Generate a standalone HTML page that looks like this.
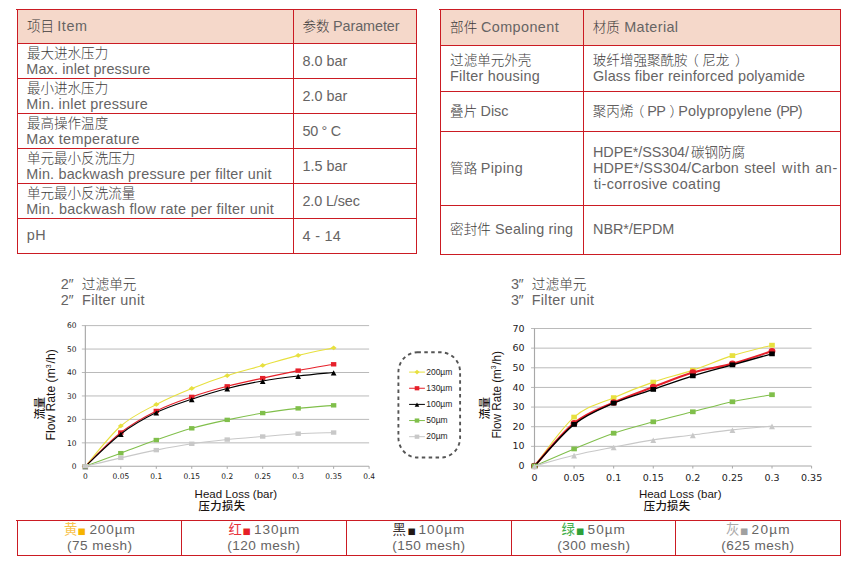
<!DOCTYPE html>
<html lang="zh">
<head>
<meta charset="utf-8">
<title>Filter unit specifications</title>
<style>
html,body{margin:0;padding:0;background:#fff;}
body{width:849px;height:563px;overflow:hidden;position:relative;}
svg{position:absolute;left:0;top:0;display:block;}
text{font-family:"Liberation Sans","Noto Sans CJK SC",sans-serif;white-space:pre;}
</style>
</head>
<body>
<svg width="849" height="563" viewBox="0 0 849 563">
<rect x="17" y="9" width="400" height="34" fill="#f5d8ca"/>
<path d="M16,9h401v1h-401zM17,43h400v1h-400zM17,78h400v1h-400zM17,113h400v1h-400zM17,148h400v1h-400zM17,183h400v1h-400zM17,218h400v1h-400zM17,253h400v1h-400zM17,9h1v245h-1zM293,9h1v245h-1zM416,9h1v245h-1z" fill="#cb1b23" shape-rendering="crispEdges"/>
<text y="31.4" fill="#666464"><tspan x="26.90" font-size="13.55" font-weight="300" letter-spacing="0" fill="#3e3c3c">项目</tspan><tspan> </tspan><tspan x="57.30" font-size="14.4" letter-spacing="0.575">Item</tspan></text>
<text y="31.4" fill="#666464"><tspan x="302.50" font-size="13.55" font-weight="300" letter-spacing="0" fill="#3e3c3c">参数</tspan><tspan> </tspan><tspan x="333.05" font-size="14.4" letter-spacing="-0.085">Parameter</tspan></text>
<text y="57.9" fill="#666464"><tspan x="26.90" font-size="13.55" font-weight="300" letter-spacing="0" fill="#3e3c3c">最大进水压力</tspan></text>
<text y="73.6" fill="#666464"><tspan x="26.35" font-size="14.4" letter-spacing="0.134">Max. inlet pressure</tspan></text>
<text y="66.2" fill="#666464"><tspan x="302.52" font-size="14.4" letter-spacing="-0.011">8.0 bar</tspan></text>
<text y="92.9" fill="#666464"><tspan x="26.90" font-size="13.55" font-weight="300" letter-spacing="0" fill="#3e3c3c">最小进水压力</tspan></text>
<text y="108.6" fill="#666464"><tspan x="26.35" font-size="14.4" letter-spacing="0.216">Min. inlet pressure</tspan></text>
<text y="101.2" fill="#666464"><tspan x="302.38" font-size="14.4" letter-spacing="0.013">2.0 bar</tspan></text>
<text y="127.9" fill="#666464"><tspan x="26.90" font-size="13.55" font-weight="300" letter-spacing="0" fill="#3e3c3c">最高操作温度</tspan></text>
<text y="143.6" fill="#666464"><tspan x="26.35" font-size="14.4" letter-spacing="0.319">Max temperature</tspan></text>
<text y="136.2" fill="#666464"><tspan x="302.52" font-size="14.4" letter-spacing="-0.319">50 ° C</tspan></text>
<text y="162.9" fill="#666464"><tspan x="26.90" font-size="13.55" font-weight="300" letter-spacing="0" fill="#3e3c3c">单元最小反洗压力</tspan></text>
<text y="178.6" fill="#666464"><tspan x="26.35" font-size="14.4" letter-spacing="0.183">Min. backwash pressure per filter unit</tspan></text>
<text y="171.2" fill="#666464"><tspan x="302.52" font-size="14.4" letter-spacing="-0.010">1.5 bar</tspan></text>
<text y="197.9" fill="#666464"><tspan x="26.90" font-size="13.55" font-weight="300" letter-spacing="0" fill="#3e3c3c">单元最小反洗流量</tspan></text>
<text y="213.6" fill="#666464"><tspan x="26.35" font-size="14.4" letter-spacing="0.281">Min. backwash flow rate per filter unit</tspan></text>
<text y="206.2" fill="#666464"><tspan x="302.38" font-size="14.4" letter-spacing="-0.111">2.0 L/sec</tspan></text>
<text y="240.2" fill="#666464"><tspan x="26.64" font-size="14.4" letter-spacing="0.684">pH</tspan></text>
<text y="241.1" fill="#666464"><tspan x="302.61" font-size="14.4" letter-spacing="0.271">4 - 14</tspan></text>
<rect x="440" y="9" width="401" height="36" fill="#f5d8ca"/>
<path d="M439,9h402v1h-402zM440,45h401v1h-401zM440,91h401v1h-401zM440,131h401v1h-401zM440,205h401v1h-401zM440,254h401v1h-401zM440,9h1v246h-1zM583,9h1v246h-1zM840,9h1v246h-1z" fill="#cb1b23" shape-rendering="crispEdges"/>
<text y="32.0" fill="#666464"><tspan x="450.10" font-size="13.55" font-weight="300" letter-spacing="0" fill="#3e3c3c">部件</tspan><tspan> </tspan><tspan x="480.98" font-size="14.4" letter-spacing="0.418">Component</tspan></text>
<text y="32.0" fill="#666464"><tspan x="592.80" font-size="13.55" font-weight="300" letter-spacing="0" fill="#3e3c3c">材质</tspan><tspan> </tspan><tspan x="624.25" font-size="14.4" letter-spacing="0.375">Material</tspan></text>
<text y="64.9" fill="#666464"><tspan x="450.10" font-size="13.55" font-weight="300" letter-spacing="0" fill="#3e3c3c">过滤单元外壳</tspan></text>
<text y="80.7" fill="#666464"><tspan x="449.95" font-size="14.4" letter-spacing="0.270">Filter housing</tspan></text>
<text y="64.9" fill="#666464"><tspan x="592.80" font-size="13.55" font-weight="300" letter-spacing="0" fill="#3e3c3c">玻纤增强聚酰胺</tspan><tspan x="685.20" font-size="13.55" font-weight="300" letter-spacing="0" fill="#3e3c3c">（</tspan><tspan x="702.30" font-size="13.55" font-weight="300" letter-spacing="0" fill="#3e3c3c">尼龙</tspan><tspan x="734.90" font-size="13.55" font-weight="300" letter-spacing="0" fill="#3e3c3c">）</tspan></text>
<text y="80.9" fill="#666464"><tspan x="592.88" font-size="14.4" letter-spacing="0.187">Glass fiber reinforced polyamide</tspan></text>
<text y="115.6" fill="#666464"><tspan x="450.10" font-size="13.55" font-weight="300" letter-spacing="0" fill="#3e3c3c">叠片</tspan><tspan> </tspan><tspan x="480.55" font-size="14.4" letter-spacing="-0.032">Disc</tspan></text>
<text y="115.8" fill="#666464"><tspan x="592.80" font-size="13.55" font-weight="300" letter-spacing="0" fill="#3e3c3c">聚丙烯</tspan><tspan x="630.70" font-size="13.55" font-weight="300" letter-spacing="0" fill="#3e3c3c">（</tspan><tspan x="647.25" font-size="14.4" letter-spacing="-0.480">PP</tspan><tspan x="669.60" font-size="13.55" font-weight="300" letter-spacing="0" fill="#3e3c3c">）</tspan><tspan x="678.15" font-size="14.4" letter-spacing="0.200">Polypropylene</tspan><tspan> </tspan><tspan x="776.14" font-size="14.4" letter-spacing="-0.757">(PP)</tspan></text>
<text y="173.2" fill="#666464"><tspan x="450.10" font-size="13.55" font-weight="300" letter-spacing="0" fill="#3e3c3c">管路</tspan><tspan> </tspan><tspan x="480.75" font-size="14.4" letter-spacing="0.397">Piping</tspan></text>
<text y="157.0" fill="#666464"><tspan x="593.05" font-size="14.4" letter-spacing="-0.078">HDPE*/SS304/</tspan><tspan x="691.00" font-size="13.55" font-weight="300" letter-spacing="0" fill="#3e3c3c">碳钢防腐</tspan></text>
<text y="172.9" fill="#666464"><tspan x="593.05" font-size="14.4" letter-spacing="0.108">HDPE*/SS304/Carbon</tspan><tspan> </tspan><tspan x="744.34" font-size="14.4" letter-spacing="0.185">steel</tspan><tspan> </tspan><tspan x="782.07" font-size="14.4" letter-spacing="0.677">with</tspan><tspan> </tspan><tspan x="815.22" font-size="14.4" letter-spacing="0.608">an-</tspan></text>
<text y="189.1" fill="#666464"><tspan x="593.68" font-size="14.4" letter-spacing="0.324">ti-corrosive coating</tspan></text>
<text y="234.3" fill="#666464"><tspan x="450.10" font-size="13.55" font-weight="300" letter-spacing="0" fill="#3e3c3c">密封件</tspan><tspan> </tspan><tspan x="495.05" font-size="14.4" letter-spacing="0.189">Sealing ring</tspan></text>
<text y="234.2" fill="#666464"><tspan x="593.05" font-size="14.4" letter-spacing="-0.043">NBR*/EPDM</tspan></text>
<text y="288.8" fill="#666464"><tspan x="60.68" font-size="14.4" letter-spacing="-0.068">2″</tspan><tspan x="81.80" font-size="13.7" font-weight="300" letter-spacing="0" fill="#3e3c3c">过滤单元</tspan></text>
<text y="305.0" fill="#666464"><tspan x="60.68" font-size="14.4" letter-spacing="-0.068">2″</tspan><tspan>  </tspan><tspan x="82.05" font-size="14.4" letter-spacing="0.317">Filter unit</tspan></text>
<text y="288.8" fill="#666464"><tspan x="510.90" font-size="14.4" letter-spacing="-0.284">3″</tspan><tspan x="531.80" font-size="13.7" font-weight="300" letter-spacing="0" fill="#3e3c3c">过滤单元</tspan></text>
<text y="305.0" fill="#666464"><tspan x="510.90" font-size="14.4" letter-spacing="-0.284">3″</tspan><tspan>  </tspan><tspan x="531.75" font-size="14.4" letter-spacing="0.317">Filter unit</tspan></text>
<line x1="81.85" y1="466.3" x2="369.1" y2="466.3" stroke="#a8a8a8" stroke-width="1.1"/>
<text transform="translate(76.4,469.15) scale(0.96,1)" font-size="7.8" fill="#222222" text-anchor="end" style="font-family:'DejaVu Sans',sans-serif">0</text>
<line x1="81.85" y1="442.85" x2="369.1" y2="442.85" stroke="#b2b2b2" stroke-width="0.9"/>
<text transform="translate(76.4,445.7) scale(0.96,1)" font-size="7.8" fill="#222222" text-anchor="end" style="font-family:'DejaVu Sans',sans-serif">10</text>
<line x1="81.85" y1="419.4" x2="369.1" y2="419.4" stroke="#b2b2b2" stroke-width="0.9"/>
<text transform="translate(76.4,422.25) scale(0.96,1)" font-size="7.8" fill="#222222" text-anchor="end" style="font-family:'DejaVu Sans',sans-serif">20</text>
<line x1="81.85" y1="395.95" x2="369.1" y2="395.95" stroke="#b2b2b2" stroke-width="0.9"/>
<text transform="translate(76.4,398.8) scale(0.96,1)" font-size="7.8" fill="#222222" text-anchor="end" style="font-family:'DejaVu Sans',sans-serif">30</text>
<line x1="81.85" y1="372.5" x2="369.1" y2="372.5" stroke="#b2b2b2" stroke-width="0.9"/>
<text transform="translate(76.4,375.35) scale(0.96,1)" font-size="7.8" fill="#222222" text-anchor="end" style="font-family:'DejaVu Sans',sans-serif">40</text>
<line x1="81.85" y1="349.05" x2="369.1" y2="349.05" stroke="#b2b2b2" stroke-width="0.9"/>
<text transform="translate(76.4,351.9) scale(0.96,1)" font-size="7.8" fill="#222222" text-anchor="end" style="font-family:'DejaVu Sans',sans-serif">50</text>
<line x1="81.85" y1="325.6" x2="369.1" y2="325.6" stroke="#b2b2b2" stroke-width="0.9"/>
<text transform="translate(76.4,328.45) scale(0.96,1)" font-size="7.8" fill="#222222" text-anchor="end" style="font-family:'DejaVu Sans',sans-serif">60</text>
<line x1="85.35" y1="325.6" x2="85.35" y2="468.8" stroke="#a8a8a8" stroke-width="1.15"/>
<line x1="85.35" y1="466.3" x2="85.35" y2="468.8" stroke="#a8a8a8" stroke-width="1.0"/>
<text transform="translate(85.35,478.8) scale(0.96,1)" font-size="7.8" fill="#222222" text-anchor="middle" style="font-family:'DejaVu Sans',sans-serif">0</text>
<line x1="120.82" y1="466.3" x2="120.82" y2="468.8" stroke="#a8a8a8" stroke-width="1.0"/>
<text transform="translate(120.82,478.8) scale(0.96,1)" font-size="7.8" fill="#222222" text-anchor="middle" style="font-family:'DejaVu Sans',sans-serif">0.05</text>
<line x1="156.29" y1="466.3" x2="156.29" y2="468.8" stroke="#a8a8a8" stroke-width="1.0"/>
<text transform="translate(156.29,478.8) scale(0.96,1)" font-size="7.8" fill="#222222" text-anchor="middle" style="font-family:'DejaVu Sans',sans-serif">0.1</text>
<line x1="191.76" y1="466.3" x2="191.76" y2="468.8" stroke="#a8a8a8" stroke-width="1.0"/>
<text transform="translate(191.76,478.8) scale(0.96,1)" font-size="7.8" fill="#222222" text-anchor="middle" style="font-family:'DejaVu Sans',sans-serif">0.15</text>
<line x1="227.22" y1="466.3" x2="227.22" y2="468.8" stroke="#a8a8a8" stroke-width="1.0"/>
<text transform="translate(227.22,478.8) scale(0.96,1)" font-size="7.8" fill="#222222" text-anchor="middle" style="font-family:'DejaVu Sans',sans-serif">0.2</text>
<line x1="262.69" y1="466.3" x2="262.69" y2="468.8" stroke="#a8a8a8" stroke-width="1.0"/>
<text transform="translate(262.69,478.8) scale(0.96,1)" font-size="7.8" fill="#222222" text-anchor="middle" style="font-family:'DejaVu Sans',sans-serif">0.25</text>
<line x1="298.16" y1="466.3" x2="298.16" y2="468.8" stroke="#a8a8a8" stroke-width="1.0"/>
<text transform="translate(298.16,478.8) scale(0.96,1)" font-size="7.8" fill="#222222" text-anchor="middle" style="font-family:'DejaVu Sans',sans-serif">0.3</text>
<line x1="333.63" y1="466.3" x2="333.63" y2="468.8" stroke="#a8a8a8" stroke-width="1.0"/>
<text transform="translate(333.63,478.8) scale(0.96,1)" font-size="7.8" fill="#222222" text-anchor="middle" style="font-family:'DejaVu Sans',sans-serif">0.35</text>
<line x1="369.1" y1="466.3" x2="369.1" y2="468.8" stroke="#a8a8a8" stroke-width="1.0"/>
<text transform="translate(369.1,478.8) scale(0.96,1)" font-size="7.8" fill="#222222" text-anchor="middle" style="font-family:'DejaVu Sans',sans-serif">0.4</text>
<path d="M85.35,466.30 C91.26,459.58 109.00,436.28 120.82,425.97 C132.64,415.65 144.46,410.65 156.29,404.39 C168.11,398.14 179.93,393.25 191.76,388.45 C203.58,383.64 215.40,379.38 227.22,375.55 C239.05,371.72 250.87,368.83 262.69,365.47 C274.52,362.10 286.34,358.31 298.16,355.38 C309.99,352.45 327.72,349.13 333.63,347.88" fill="none" stroke="#e7e03f" stroke-width="1.1"/>
<path d="M85.35,463.90 L88.35,466.30 L85.35,468.70 L82.35,466.30Z" fill="#e7e03f"/>
<path d="M120.82,423.57 L123.82,425.97 L120.82,428.37 L117.82,425.97Z" fill="#e7e03f"/>
<path d="M156.29,401.99 L159.29,404.39 L156.29,406.79 L153.29,404.39Z" fill="#e7e03f"/>
<path d="M191.76,386.05 L194.76,388.45 L191.76,390.85 L188.76,388.45Z" fill="#e7e03f"/>
<path d="M227.22,373.15 L230.22,375.55 L227.22,377.95 L224.22,375.55Z" fill="#e7e03f"/>
<path d="M262.69,363.07 L265.69,365.47 L262.69,367.87 L259.69,365.47Z" fill="#e7e03f"/>
<path d="M298.16,352.98 L301.16,355.38 L298.16,357.78 L295.16,355.38Z" fill="#e7e03f"/>
<path d="M333.63,345.48 L336.63,347.88 L333.63,350.28 L330.63,347.88Z" fill="#e7e03f"/>
<path d="M85.35,466.30 C91.26,460.67 109.00,441.76 120.82,432.53 C132.64,423.31 144.46,416.90 156.29,410.96 C168.11,405.02 179.93,400.99 191.76,396.89 C203.58,392.78 215.40,389.46 227.22,386.34 C239.05,383.21 250.87,380.75 262.69,378.13 C274.52,375.51 286.34,372.93 298.16,370.62 C309.99,368.32 327.72,365.35 333.63,364.29" fill="none" stroke="#e6202a" stroke-width="1.1"/>
<rect x="82.65" y="464.10" width="5.40" height="4.40" fill="#e6202a"/>
<rect x="118.12" y="430.33" width="5.40" height="4.40" fill="#e6202a"/>
<rect x="153.59" y="408.76" width="5.40" height="4.40" fill="#e6202a"/>
<rect x="189.06" y="394.69" width="5.40" height="4.40" fill="#e6202a"/>
<rect x="224.53" y="384.14" width="5.40" height="4.40" fill="#e6202a"/>
<rect x="259.99" y="375.93" width="5.40" height="4.40" fill="#e6202a"/>
<rect x="295.46" y="368.42" width="5.40" height="4.40" fill="#e6202a"/>
<rect x="330.93" y="362.09" width="5.40" height="4.40" fill="#e6202a"/>
<path d="M85.35,466.30 C91.26,460.91 109.00,442.89 120.82,433.94 C132.64,424.99 144.46,418.38 156.29,412.60 C168.11,406.82 179.93,403.26 191.76,399.23 C203.58,395.21 215.40,391.49 227.22,388.45 C239.05,385.40 250.87,383.01 262.69,380.94 C274.52,378.87 286.34,377.42 298.16,376.02 C309.99,374.61 327.72,373.09 333.63,372.50" fill="none" stroke="#000000" stroke-width="1.1"/>
<path d="M85.35,464.10 L88.20,469.30 L82.50,469.30Z" fill="#000000"/>
<path d="M120.82,431.74 L123.67,436.94 L117.97,436.94Z" fill="#000000"/>
<path d="M156.29,410.40 L159.14,415.60 L153.44,415.60Z" fill="#000000"/>
<path d="M191.76,397.03 L194.61,402.23 L188.91,402.23Z" fill="#000000"/>
<path d="M227.22,386.25 L230.07,391.45 L224.38,391.45Z" fill="#000000"/>
<path d="M262.69,378.74 L265.54,383.94 L259.84,383.94Z" fill="#000000"/>
<path d="M298.16,373.82 L301.01,379.02 L295.31,379.02Z" fill="#000000"/>
<path d="M333.63,370.30 L336.48,375.50 L330.78,375.50Z" fill="#000000"/>
<path d="M85.35,466.30 C91.26,464.11 109.00,457.55 120.82,453.17 C132.64,448.79 144.46,444.18 156.29,440.04 C168.11,435.89 179.93,431.67 191.76,428.31 C203.58,424.95 215.40,422.41 227.22,419.87 C239.05,417.33 250.87,414.98 262.69,413.07 C274.52,411.15 286.34,409.67 298.16,408.38 C309.99,407.09 327.72,405.84 333.63,405.33" fill="none" stroke="#80bf4b" stroke-width="1.1"/>
<rect x="82.65" y="464.10" width="5.40" height="4.40" fill="#80bf4b"/>
<rect x="118.12" y="450.97" width="5.40" height="4.40" fill="#80bf4b"/>
<rect x="153.59" y="437.84" width="5.40" height="4.40" fill="#80bf4b"/>
<rect x="189.06" y="426.11" width="5.40" height="4.40" fill="#80bf4b"/>
<rect x="224.53" y="417.67" width="5.40" height="4.40" fill="#80bf4b"/>
<rect x="259.99" y="410.87" width="5.40" height="4.40" fill="#80bf4b"/>
<rect x="295.46" y="406.18" width="5.40" height="4.40" fill="#80bf4b"/>
<rect x="330.93" y="403.13" width="5.40" height="4.40" fill="#80bf4b"/>
<path d="M85.35,466.30 C91.26,464.89 109.00,460.55 120.82,457.86 C132.64,455.16 144.46,452.46 156.29,450.12 C168.11,447.77 179.93,445.55 191.76,443.79 C203.58,442.03 215.40,440.78 227.22,439.57 C239.05,438.36 250.87,437.50 262.69,436.52 C274.52,435.54 286.34,434.37 298.16,433.70 C309.99,433.04 327.72,432.73 333.63,432.53" fill="none" stroke="#c8c8c8" stroke-width="1.1"/>
<rect x="82.65" y="464.10" width="5.40" height="4.40" fill="#c8c8c8"/>
<rect x="118.12" y="455.66" width="5.40" height="4.40" fill="#c8c8c8"/>
<rect x="153.59" y="447.92" width="5.40" height="4.40" fill="#c8c8c8"/>
<rect x="189.06" y="441.59" width="5.40" height="4.40" fill="#c8c8c8"/>
<rect x="224.53" y="437.37" width="5.40" height="4.40" fill="#c8c8c8"/>
<rect x="259.99" y="434.32" width="5.40" height="4.40" fill="#c8c8c8"/>
<rect x="295.46" y="431.50" width="5.40" height="4.40" fill="#c8c8c8"/>
<rect x="330.93" y="430.33" width="5.40" height="4.40" fill="#c8c8c8"/>
<line x1="531.0" y1="466.0" x2="811.6" y2="466.0" stroke="#a8a8a8" stroke-width="1.1"/>
<text transform="translate(524.5,469.1) scale(1.12,1)" font-size="8.5" fill="#222222" text-anchor="end" style="font-family:'DejaVu Sans',sans-serif">0</text>
<line x1="531.0" y1="446.36" x2="811.6" y2="446.36" stroke="#b2b2b2" stroke-width="0.9"/>
<text transform="translate(524.5,449.46) scale(1.12,1)" font-size="8.5" fill="#222222" text-anchor="end" style="font-family:'DejaVu Sans',sans-serif">10</text>
<line x1="531.0" y1="426.71" x2="811.6" y2="426.71" stroke="#b2b2b2" stroke-width="0.9"/>
<text transform="translate(524.5,429.82) scale(1.12,1)" font-size="8.5" fill="#222222" text-anchor="end" style="font-family:'DejaVu Sans',sans-serif">20</text>
<line x1="531.0" y1="407.07" x2="811.6" y2="407.07" stroke="#b2b2b2" stroke-width="0.9"/>
<text transform="translate(524.5,410.17) scale(1.12,1)" font-size="8.5" fill="#222222" text-anchor="end" style="font-family:'DejaVu Sans',sans-serif">30</text>
<line x1="531.0" y1="387.43" x2="811.6" y2="387.43" stroke="#b2b2b2" stroke-width="0.9"/>
<text transform="translate(524.5,390.53) scale(1.12,1)" font-size="8.5" fill="#222222" text-anchor="end" style="font-family:'DejaVu Sans',sans-serif">40</text>
<line x1="531.0" y1="367.79" x2="811.6" y2="367.79" stroke="#b2b2b2" stroke-width="0.9"/>
<text transform="translate(524.5,370.89) scale(1.12,1)" font-size="8.5" fill="#222222" text-anchor="end" style="font-family:'DejaVu Sans',sans-serif">50</text>
<line x1="531.0" y1="348.14" x2="811.6" y2="348.14" stroke="#b2b2b2" stroke-width="0.9"/>
<text transform="translate(524.5,351.25) scale(1.12,1)" font-size="8.5" fill="#222222" text-anchor="end" style="font-family:'DejaVu Sans',sans-serif">60</text>
<line x1="531.0" y1="328.5" x2="811.6" y2="328.5" stroke="#b2b2b2" stroke-width="0.9"/>
<text transform="translate(524.5,331.6) scale(1.12,1)" font-size="8.5" fill="#222222" text-anchor="end" style="font-family:'DejaVu Sans',sans-serif">70</text>
<line x1="534.5" y1="328.5" x2="534.5" y2="468.5" stroke="#a8a8a8" stroke-width="1.15"/>
<line x1="534.5" y1="466.0" x2="534.5" y2="468.5" stroke="#a8a8a8" stroke-width="1.0"/>
<text transform="translate(534.5,481.4) scale(1.12,1)" font-size="8.5" fill="#222222" text-anchor="middle" style="font-family:'DejaVu Sans',sans-serif">0</text>
<line x1="574.09" y1="466.0" x2="574.09" y2="468.5" stroke="#a8a8a8" stroke-width="1.0"/>
<text transform="translate(574.09,481.4) scale(1.12,1)" font-size="8.5" fill="#222222" text-anchor="middle" style="font-family:'DejaVu Sans',sans-serif">0.05</text>
<line x1="613.67" y1="466.0" x2="613.67" y2="468.5" stroke="#a8a8a8" stroke-width="1.0"/>
<text transform="translate(613.67,481.4) scale(1.12,1)" font-size="8.5" fill="#222222" text-anchor="middle" style="font-family:'DejaVu Sans',sans-serif">0.1</text>
<line x1="653.26" y1="466.0" x2="653.26" y2="468.5" stroke="#a8a8a8" stroke-width="1.0"/>
<text transform="translate(653.26,481.4) scale(1.12,1)" font-size="8.5" fill="#222222" text-anchor="middle" style="font-family:'DejaVu Sans',sans-serif">0.15</text>
<line x1="692.84" y1="466.0" x2="692.84" y2="468.5" stroke="#a8a8a8" stroke-width="1.0"/>
<text transform="translate(692.84,481.4) scale(1.12,1)" font-size="8.5" fill="#222222" text-anchor="middle" style="font-family:'DejaVu Sans',sans-serif">0.2</text>
<line x1="732.43" y1="466.0" x2="732.43" y2="468.5" stroke="#a8a8a8" stroke-width="1.0"/>
<text transform="translate(732.43,481.4) scale(1.12,1)" font-size="8.5" fill="#222222" text-anchor="middle" style="font-family:'DejaVu Sans',sans-serif">0.25</text>
<line x1="772.01" y1="466.0" x2="772.01" y2="468.5" stroke="#a8a8a8" stroke-width="1.0"/>
<text transform="translate(772.01,481.4) scale(1.12,1)" font-size="8.5" fill="#222222" text-anchor="middle" style="font-family:'DejaVu Sans',sans-serif">0.3</text>
<line x1="811.6" y1="466.0" x2="811.6" y2="468.5" stroke="#a8a8a8" stroke-width="1.0"/>
<text transform="translate(811.6,481.4) scale(1.12,1)" font-size="8.5" fill="#222222" text-anchor="middle" style="font-family:'DejaVu Sans',sans-serif">0.35</text>
<path d="M534.50,466.00 C541.10,457.85 560.89,428.48 574.09,417.09 C587.28,405.70 600.48,403.47 613.67,397.64 C626.87,391.82 640.06,386.71 653.26,382.12 C666.45,377.54 679.65,374.56 692.84,370.14 C706.04,365.72 719.23,359.76 732.43,355.61 C745.62,351.45 765.42,346.93 772.01,345.20" fill="none" stroke="#e7e03f" stroke-width="1.1"/>
<rect x="531.70" y="463.60" width="5.60" height="4.80" fill="#e7e03f"/>
<rect x="571.29" y="414.69" width="5.60" height="4.80" fill="#e7e03f"/>
<rect x="610.87" y="395.24" width="5.60" height="4.80" fill="#e7e03f"/>
<rect x="650.46" y="379.73" width="5.60" height="4.80" fill="#e7e03f"/>
<rect x="690.04" y="367.74" width="5.60" height="4.80" fill="#e7e03f"/>
<rect x="729.63" y="353.21" width="5.60" height="4.80" fill="#e7e03f"/>
<rect x="769.21" y="342.80" width="5.60" height="4.80" fill="#e7e03f"/>
<path d="M534.50,466.00 C541.10,458.86 560.89,433.75 574.09,423.18 C587.28,412.60 600.48,408.58 613.67,402.55 C626.87,396.53 640.06,392.04 653.26,387.04 C666.45,382.03 679.65,376.40 692.84,372.50 C706.04,368.60 719.23,367.23 732.43,363.66 C745.62,360.09 765.42,353.18 772.01,351.09" fill="none" stroke="#e6202a" stroke-width="2.1"/>
<ellipse cx="534.50" cy="466.00" rx="3.40" ry="3.20" fill="#e6202a"/>
<ellipse cx="574.09" cy="423.18" rx="3.40" ry="3.20" fill="#e6202a"/>
<ellipse cx="613.67" cy="402.55" rx="3.40" ry="3.20" fill="#e6202a"/>
<ellipse cx="653.26" cy="387.04" rx="3.40" ry="3.20" fill="#e6202a"/>
<ellipse cx="692.84" cy="372.50" rx="3.40" ry="3.20" fill="#e6202a"/>
<ellipse cx="732.43" cy="363.66" rx="3.40" ry="3.20" fill="#e6202a"/>
<ellipse cx="772.01" cy="351.09" rx="3.40" ry="3.20" fill="#e6202a"/>
<path d="M534.50,466.00 C541.10,459.06 560.89,434.83 574.09,424.36 C587.28,413.88 600.48,408.97 613.67,403.14 C626.87,397.32 640.06,393.94 653.26,389.39 C666.45,384.84 679.65,379.93 692.84,375.84 C706.04,371.75 719.23,368.51 732.43,364.84 C745.62,361.17 765.42,355.67 772.01,353.84" fill="none" stroke="#000000" stroke-width="1.4"/>
<rect x="531.70" y="463.60" width="5.60" height="4.80" fill="#000000"/>
<rect x="571.29" y="421.96" width="5.60" height="4.80" fill="#000000"/>
<rect x="610.87" y="400.74" width="5.60" height="4.80" fill="#000000"/>
<rect x="650.46" y="386.99" width="5.60" height="4.80" fill="#000000"/>
<rect x="690.04" y="373.44" width="5.60" height="4.80" fill="#000000"/>
<rect x="729.63" y="362.44" width="5.60" height="4.80" fill="#000000"/>
<rect x="769.21" y="351.44" width="5.60" height="4.80" fill="#000000"/>
<path d="M534.50,466.00 C541.10,463.15 560.89,454.38 574.09,448.91 C587.28,443.44 600.48,437.71 613.67,433.20 C626.87,428.68 640.06,425.37 653.26,421.80 C666.45,418.24 679.65,415.12 692.84,411.79 C706.04,408.45 719.23,404.62 732.43,401.77 C745.62,398.92 765.42,395.88 772.01,394.70" fill="none" stroke="#80bf4b" stroke-width="1.1"/>
<rect x="531.70" y="463.60" width="5.60" height="4.80" fill="#80bf4b"/>
<rect x="571.29" y="446.51" width="5.60" height="4.80" fill="#80bf4b"/>
<rect x="610.87" y="430.80" width="5.60" height="4.80" fill="#80bf4b"/>
<rect x="650.46" y="419.40" width="5.60" height="4.80" fill="#80bf4b"/>
<rect x="690.04" y="409.39" width="5.60" height="4.80" fill="#80bf4b"/>
<rect x="729.63" y="399.37" width="5.60" height="4.80" fill="#80bf4b"/>
<rect x="769.21" y="392.30" width="5.60" height="4.80" fill="#80bf4b"/>
<path d="M534.50,466.00 C541.10,464.20 560.89,458.34 574.09,455.20 C587.28,452.05 600.48,449.70 613.67,447.14 C626.87,444.59 640.06,441.90 653.26,439.88 C666.45,437.85 679.65,436.63 692.84,434.96 C706.04,433.29 719.23,431.36 732.43,429.86 C745.62,428.35 765.42,426.58 772.01,425.93" fill="none" stroke="#c8c8c8" stroke-width="1.1"/>
<path d="M534.50,463.60 L537.45,469.20 L531.55,469.20Z" fill="#c8c8c8"/>
<path d="M574.09,452.80 L577.04,458.40 L571.14,458.40Z" fill="#c8c8c8"/>
<path d="M613.67,444.74 L616.62,450.34 L610.72,450.34Z" fill="#c8c8c8"/>
<path d="M653.26,437.47 L656.21,443.07 L650.31,443.07Z" fill="#c8c8c8"/>
<path d="M692.84,432.56 L695.79,438.16 L689.89,438.16Z" fill="#c8c8c8"/>
<path d="M732.43,427.46 L735.38,433.06 L729.48,433.06Z" fill="#c8c8c8"/>
<path d="M772.01,423.53 L774.96,429.13 L769.06,429.13Z" fill="#c8c8c8"/>
<text y="497.5" fill="#1a1311"><tspan x="194.58" font-size="11.5" letter-spacing="0.011">Head Loss (bar)</tspan></text>
<text x="198.6" y="509.8" fill="#1a1311" font-size="11.4" font-weight="500" letter-spacing="0.3">压力损失</text>
<g transform="translate(55.1,440.4) rotate(-90)"><text x="0" y="0" fill="#1a1311" font-size="12" textLength="91.09999999999997" lengthAdjust="spacingAndGlyphs">Flow Rate (m<tspan font-size="7" dy="-4.4">3</tspan><tspan dy="4.4" dx="0.8">/h)</tspan></text></g>
<g transform="translate(43.8,408.2) rotate(-90)"><text x="0" y="0" fill="#1a1311" font-size="11.3" font-weight="500" text-anchor="middle">流量</text></g>
<text y="498.0" fill="#1a1311"><tspan x="638.88" font-size="11.5" letter-spacing="0.011">Head Loss (bar)</tspan></text>
<text x="643.7" y="510.3" fill="#1a1311" font-size="11.4" font-weight="500" letter-spacing="0.3">压力损失</text>
<g transform="translate(500.6,438.6) rotate(-90)"><text x="0" y="0" fill="#1a1311" font-size="12" textLength="87.60000000000002" lengthAdjust="spacingAndGlyphs">Flow Rate (m<tspan font-size="7" dy="-4.4">3</tspan><tspan dy="4.4" dx="0.8">/h)</tspan></text></g>
<g transform="translate(488.5,408.2) rotate(-90)"><text x="0" y="0" fill="#1a1311" font-size="11.3" font-weight="500" text-anchor="middle">流量</text></g>
<rect x="398.4" y="352.3" width="61.7" height="105.2" rx="19" ry="20" fill="none" stroke="#555555" stroke-width="1.9" stroke-dasharray="3.5 3.4"/>
<line x1="409.1" y1="372.1" x2="424.9" y2="372.1" stroke="#e7e03f" stroke-width="1"/>
<path d="M417.00,369.80 L419.50,372.10 L417.00,374.40 L414.50,372.10Z" fill="#e7e03f"/>
<text x="426.2" y="374.8" font-size="8.5" fill="#262626">200µm</text>
<line x1="409.1" y1="388.25" x2="424.9" y2="388.25" stroke="#e6202a" stroke-width="1"/>
<rect x="414.70" y="386.15" width="4.60" height="4.20" fill="#e6202a"/>
<text x="426.2" y="390.95" font-size="8.5" fill="#262626">130µm</text>
<line x1="409.1" y1="404.4" x2="424.9" y2="404.4" stroke="#000000" stroke-width="1"/>
<path d="M417.00,402.40 L419.30,406.80 L414.70,406.80Z" fill="#000000"/>
<text x="426.2" y="407.1" font-size="8.5" fill="#262626">100µm</text>
<line x1="409.1" y1="420.55" x2="424.9" y2="420.55" stroke="#80bf4b" stroke-width="1"/>
<rect x="414.70" y="418.45" width="4.60" height="4.20" fill="#80bf4b"/>
<text x="426.2" y="423.25" font-size="8.5" fill="#262626">50µm</text>
<line x1="409.1" y1="436.7" x2="424.9" y2="436.7" stroke="#c8c8c8" stroke-width="1"/>
<rect x="414.70" y="434.60" width="4.60" height="4.20" fill="#c8c8c8"/>
<text x="426.2" y="439.4" font-size="8.5" fill="#262626">20µm</text>
<path d="M16,520h825v1h-825zM17,555h824v1h-824zM17,520h1v36h-1zM181,520h1v36h-1zM346,520h1v36h-1zM511,520h1v36h-1zM675,520h1v36h-1zM840,520h1v36h-1z" fill="#cb1b23" shape-rendering="crispEdges"/>
<text y="534.2" fill="#666464"><tspan x="64.10" font-size="13.4" font-weight="400" letter-spacing="0" fill="#f8c350">黄</tspan><tspan x="77.50" y="536.1" font-size="13.5" fill="#f6b400">■</tspan><tspan y="534.2"><tspan> </tspan><tspan x="89.42" font-size="13.6" letter-spacing="0.894">200µm</tspan></tspan></text>
<text y="550.4" fill="#666464"><tspan x="66.88" font-size="13.6" letter-spacing="0.495">(75 mesh)</tspan></text>
<text y="534.2" fill="#666464"><tspan x="228.50" font-size="13.4" font-weight="400" letter-spacing="0" fill="#e8323a">红</tspan><tspan x="242.50" y="536.1" font-size="13.5" fill="#e61f26">■</tspan><tspan y="534.2"><tspan> </tspan><tspan x="254.08" font-size="13.6" letter-spacing="0.879">130µm</tspan></tspan></text>
<text y="550.4" fill="#666464"><tspan x="227.18" font-size="13.6" letter-spacing="0.468">(120 mesh)</tspan></text>
<text y="534.2" fill="#666464"><tspan x="392.40" font-size="13.4" font-weight="400" letter-spacing="0" fill="#3a3030">黑</tspan><tspan x="407.50" y="536.1" font-size="13.5" fill="#231815">■</tspan><tspan y="534.2"><tspan> </tspan><tspan x="418.48" font-size="13.6" letter-spacing="1.029">100µm</tspan></tspan></text>
<text y="550.4" fill="#666464"><tspan x="392.18" font-size="13.6" letter-spacing="0.468">(150 mesh)</tspan></text>
<text y="534.2" fill="#666464"><tspan x="561.60" font-size="13.4" font-weight="400" letter-spacing="0" fill="#3fae4a">绿</tspan><tspan x="575.90" y="536.1" font-size="13.5" fill="#2ea03a">■</tspan><tspan y="534.2"><tspan> </tspan><tspan x="587.56" font-size="13.6" letter-spacing="1.029">50µm</tspan></tspan></text>
<text y="550.4" fill="#666464"><tspan x="557.18" font-size="13.6" letter-spacing="0.468">(300 mesh)</tspan></text>
<text y="534.2" fill="#666464"><tspan x="726.10" font-size="13.4" font-weight="400" letter-spacing="0" fill="#ababab">灰</tspan><tspan x="739.90" y="536.1" font-size="13.5" fill="#a0a0a0">■</tspan><tspan y="534.2"><tspan> </tspan><tspan x="751.62" font-size="13.6" letter-spacing="1.241">20µm</tspan></tspan></text>
<text y="550.4" fill="#666464"><tspan x="721.18" font-size="13.6" letter-spacing="0.468">(625 mesh)</tspan></text>
</svg>
</body>
</html>
